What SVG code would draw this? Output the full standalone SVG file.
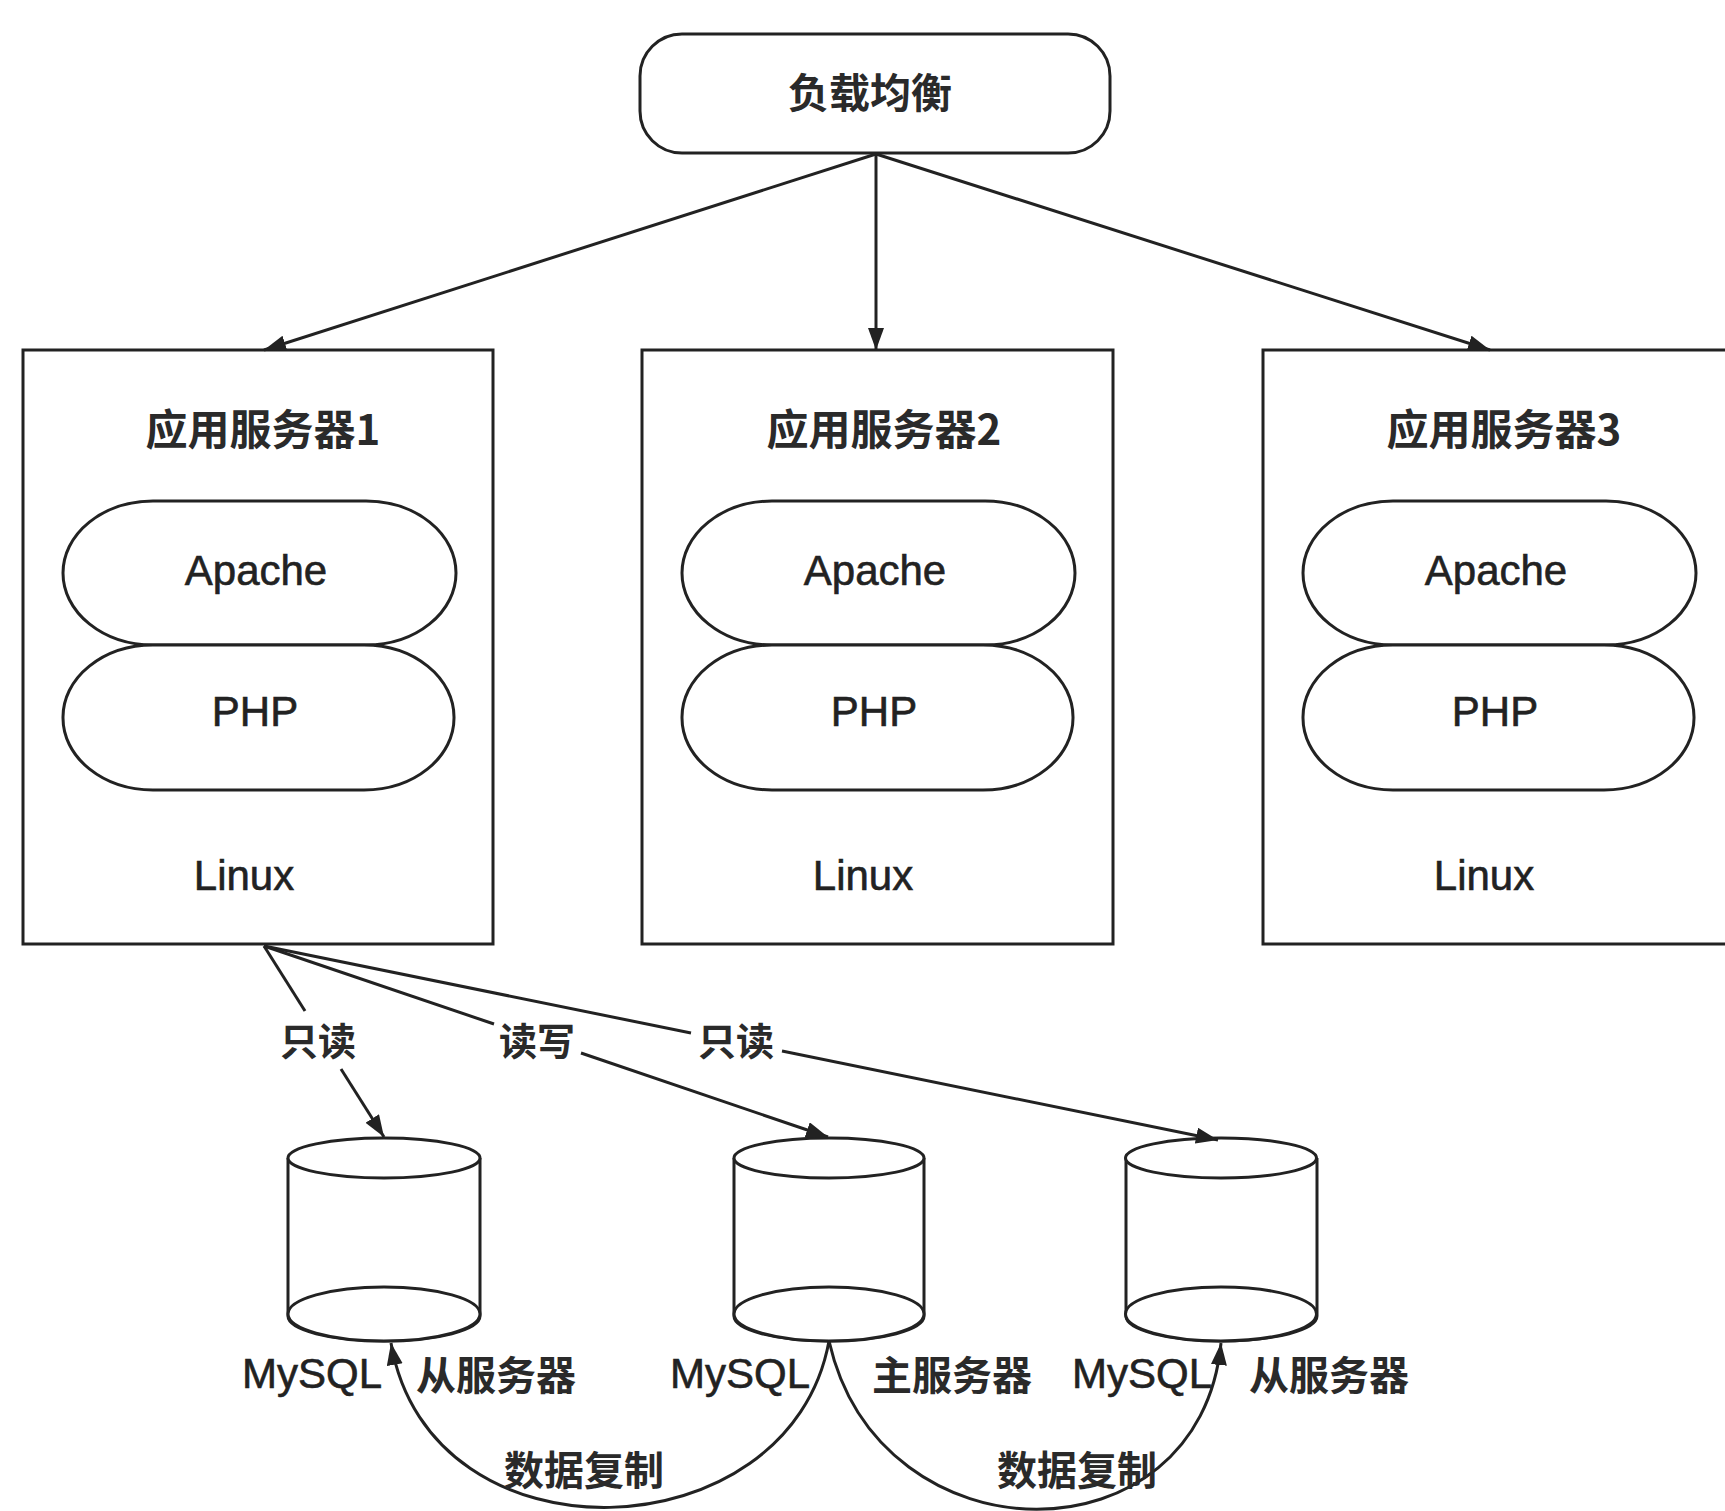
<svg xmlns="http://www.w3.org/2000/svg" width="1725" height="1511" viewBox="0 0 1725 1511">
<style>
.box{fill:#fff;stroke:#222;stroke-width:3}
.pill{fill:#fff;stroke:#222;stroke-width:3}
.line{fill:none;stroke:#222;stroke-width:3}
.cn{font-family:"Noto Sans CJK SC","Noto Sans",sans-serif;font-weight:bold;fill:#2a2a2a;text-anchor:middle;dominant-baseline:central}
.en{font-family:"Liberation Sans",Arial,sans-serif;fill:#222;stroke:#222;stroke-width:0.6;text-anchor:middle;dominant-baseline:central;font-size:42px}
</style>
<defs>
<marker id="arr" markerUnits="userSpaceOnUse" markerWidth="24" markerHeight="18" refX="22" refY="8" orient="auto">
<path d="M0,0 L22,8 L0,16 z" fill="#222"/>
</marker>
</defs>
<rect width="1725" height="1511" fill="#fff"/>

<g id="lb">
<rect class="box" x="640" y="34" width="470" height="119" rx="42"/>
<text class="cn" x="870" y="90" font-size="41">负载均衡</text>
</g>

<g id="app1">
<rect class="box" x="23" y="350" width="470" height="594"/>
<text class="cn" x="263" y="426" font-size="42">应用服务器1</text>
<rect class="pill" x="63" y="501" width="393" height="144" rx="90" ry="72"/>
<text class="en" x="256" y="570">Apache</text>
<rect class="pill" x="63" y="645" width="391" height="145" rx="90" ry="72"/>
<text class="en" x="255" y="711">PHP</text>
<text class="en" x="244" y="875">Linux</text>
</g>

<g id="app2">
<rect class="box" x="642" y="350" width="471" height="594"/>
<text class="cn" x="884" y="426" font-size="42">应用服务器2</text>
<rect class="pill" x="682" y="501" width="393" height="144" rx="90" ry="72"/>
<text class="en" x="875" y="570">Apache</text>
<rect class="pill" x="682" y="645" width="391" height="145" rx="90" ry="72"/>
<text class="en" x="874" y="711">PHP</text>
<text class="en" x="863" y="875">Linux</text>
</g>

<g id="app3">
<rect class="box" x="1263" y="350" width="490" height="594"/>
<text class="cn" x="1504" y="426" font-size="42">应用服务器3</text>
<rect class="pill" x="1303" y="501" width="393" height="144" rx="90" ry="72"/>
<text class="en" x="1496" y="570">Apache</text>
<rect class="pill" x="1303" y="645" width="391" height="145" rx="90" ry="72"/>
<text class="en" x="1495" y="711">PHP</text>
<text class="en" x="1484" y="875">Linux</text>
</g>

<g id="db1">
<path class="box" d="M288,1158 L288,1316 A96,25 0 0 0 480,1316 L480,1158"/>
<ellipse class="box" cx="384" cy="1158" rx="96" ry="20"/>
<ellipse class="box" cx="384" cy="1314" rx="96" ry="27"/>
<text class="en" x="312" y="1373">MySQL</text>
<text class="cn" x="496" y="1373" font-size="40">从服务器</text>
</g>

<g id="db2">
<path class="box" d="M734,1158 L734,1316 A95,25 0 0 0 924,1316 L924,1158"/>
<ellipse class="box" cx="829" cy="1158" rx="95" ry="20"/>
<ellipse class="box" cx="829" cy="1314" rx="95" ry="27"/>
<text class="en" x="740" y="1373">MySQL</text>
<text class="cn" x="952" y="1373" font-size="40">主服务器</text>
</g>

<g id="db3">
<path class="box" d="M1126,1158 L1126,1316 A95.5,25 0 0 0 1317,1316 L1317,1158"/>
<ellipse class="box" cx="1221" cy="1158" rx="95.5" ry="20"/>
<ellipse class="box" cx="1221" cy="1314" rx="95.5" ry="27"/>
<text class="en" x="1142" y="1373">MySQL</text>
<text class="cn" x="1329" y="1373" font-size="40">从服务器</text>
</g>

<g id="connectors">
<path class="line" d="M876,154 L264,350" marker-end="url(#arr)"/>
<path class="line" d="M876,154 L876,350" marker-end="url(#arr)"/>
<path class="line" d="M876,154 L1490,350" marker-end="url(#arr)"/>

<path class="line" d="M264,946 L305,1011"/>
<path class="line" d="M341,1069 L384,1137" marker-end="url(#arr)"/>
<path class="line" d="M264,946 L494,1024"/>
<path class="line" d="M581,1053 L828,1137" marker-end="url(#arr)"/>
<path class="line" d="M264,946 L691,1033"/>
<path class="line" d="M782,1051 L1218,1140" marker-end="url(#arr)"/>

<path class="line" d="M829,1341 C790,1555 430,1570 391,1343" marker-end="url(#arr)"/>
<path class="line" d="M829,1341 C880,1565 1200,1565 1221,1343" marker-end="url(#arr)"/>

<text class="cn" x="318" y="1038" font-size="38">只读</text>
<text class="cn" x="537" y="1038" font-size="38">读写</text>
<text class="cn" x="736" y="1038" font-size="38">只读</text>
<text class="cn" x="584" y="1468" font-size="40">数据复制</text>
<text class="cn" x="1077" y="1468" font-size="40">数据复制</text>
</g>
</svg>
